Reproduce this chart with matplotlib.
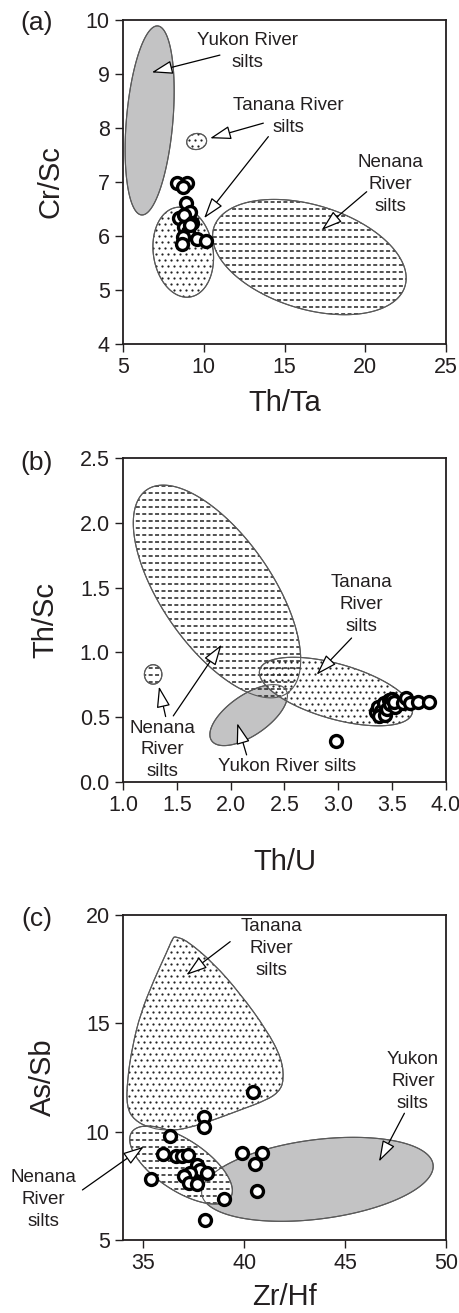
import numpy as np
import matplotlib
matplotlib.use('Agg')
import matplotlib.pyplot as plt
from matplotlib.patches import PathPatch, FancyArrowPatch
from matplotlib.path import Path

plt.rcParams['font.family'] = ['Liberation Sans', 'DejaVu Sans']

# (a) Th/Ta vs Cr/Sc
a_thta = [8.32, 8.98, 8.69, 8.90, 9.15, 8.49, 8.78, 9.25, 8.78, 9.04, 9.15, 8.73, 8.67, 9.56, 10.14]
a_crsc = [6.99, 6.99, 6.90, 6.61, 6.45, 6.33, 6.39, 6.24, 6.16, 6.08, 6.20, 5.98, 5.86, 5.94, 5.91]

# (b) Th/U vs Th/Sc
b_thu = [2.98, 3.35, 3.37, 3.40, 3.38, 3.42, 3.43, 3.45, 3.47, 3.48, 3.50, 3.53, 3.52,
         3.60, 3.63, 3.67, 3.74, 3.84]
b_thsc = [0.32, 0.54, 0.58, 0.55, 0.51, 0.61, 0.52, 0.56, 0.63, 0.60, 0.64, 0.58, 0.62,
          0.61, 0.65, 0.61, 0.62, 0.62]

# (c) Zr/Hf vs As/Sb
c_zrhf = [40.46, 38.0, 38.0, 36.32, 35.97, 36.63, 36.92, 37.20, 37.66, 37.83, 38.16, 37.34,
          37.04, 37.25, 37.66, 35.37, 39.0, 38.05, 39.88, 40.90, 40.56, 40.64]
c_assb = [11.82, 10.67, 10.2, 9.82, 8.97, 8.88, 8.88, 8.92, 8.46, 8.23, 8.08, 8.08,
          7.95, 7.62, 7.58, 7.80, 6.89, 5.92, 9.0, 9.0, 8.49, 7.26]

GRAY = '#c3c3c4'
EDGE = '#5a5a5a'
INK = '#231f20'
W, H = 460, 1313

fig = plt.figure(figsize=(W / 100, H / 100), dpi=100)


def make_axes(top, bottom, xlim, ylim, xticks, yticks, fmt):
    ax = fig.add_axes([123 / W, 1 - bottom / H, 323 / W, (bottom - top) / H])
    ax.set_xlim(*xlim)
    ax.set_ylim(*ylim)
    ax.set_xticks(xticks)
    ax.set_yticks(yticks)
    ax.set_xticklabels([fmt.format(v) for v in xticks])
    ax.set_yticklabels([fmt.format(v) for v in yticks])
    ax.tick_params(direction='out', length=5.5, width=1, labelsize=15.5, pad=4, colors=INK)
    for s in ax.spines.values():
        s.set_linewidth(1.3)
        s.set_color(INK)
    return ax


def ellipse(ax, centre, tip, ratio, n=240):
    # outline built in screen space so the axis ratio is what it looks like
    T = ax.transData
    c = T.transform(centre)
    a = T.transform(tip) - c
    b = ratio * np.array([-a[1], a[0]])
    t = np.linspace(0, 2 * np.pi, n)
    pts = c + np.outer(np.cos(t), a) + np.outer(np.sin(t), b)
    return Path(T.inverted().transform(pts), closed=True)


def smooth_outline(xy):
    xy = np.asarray(xy, float)
    mids = (xy + np.roll(xy, -1, axis=0)) / 2
    verts = [mids[-1]]
    codes = [Path.MOVETO]
    for i in range(len(xy)):
        verts += [xy[i], mids[i]]
        codes += [Path.CURVE3, Path.CURVE3]
    return Path(verts, codes)


def field(ax, path, kind):
    fc = GRAY if kind == 'gray' else 'white'
    p = PathPatch(path, fc=fc, ec=EDGE, lw=0.8, zorder=1)
    ax.add_patch(p)
    bb = ax.bbox
    inv = ax.transData.inverted()
    if kind == 'dots':
        step = 6.0
        pts = []
        for j, y in enumerate(np.arange(bb.y0, bb.y1, step)):
            off = step / 2 if j % 2 else 0
            for x in np.arange(bb.x0 + off, bb.x1, step):
                pts.append((x, y))
        d = inv.transform(np.array(pts))
        sc = ax.scatter(d[:, 0], d[:, 1], s=2.6, c='#222222', lw=0, zorder=2)
        sc.set_clip_path(p)
    elif kind == 'dash':
        for y in np.arange(bb.y0 + 2, bb.y1, 7.0):
            (x0, yy), (x1, _) = inv.transform([[bb.x0, y], [bb.x1, y]])
            ln, = ax.plot([x0, x1], [yy, yy], color='#222222', lw=1.1,
                          dashes=(2.6, 1.6), zorder=2)
            ln.set_clip_path(p)
    ax.add_patch(PathPatch(path, fc='none', ec=EDGE, lw=0.8, zorder=3))


def pointer(ax, tail, tip):
    ax.add_patch(FancyArrowPatch(tail, tip,
                                 arrowstyle='-|>,head_length=13,head_width=4.2',
                                 mutation_scale=1, shrinkA=0, shrinkB=0,
                                 fc='white', ec='black', lw=0.9, zorder=5, clip_on=False))


def note(ax, x, y, s):
    ax.text(x, y, s, ha='center', va='center', multialignment='center',
            fontsize=13.5, linespacing=1.38, color=INK, zorder=6)


def samples(ax, x, y):
    ax.plot(x, y, 'o', ms=8.6, mfc='white', mec='black', mew=2.4, ls='none',
            zorder=7, clip_on=False)


def labels(ax, xl, yl, xy, yx, letter, ly):
    ax.set_xlabel(xl, fontsize=21, va='center', color=INK)
    ax.set_ylabel(yl, fontsize=21, va='center', color=INK)
    ax.xaxis.set_label_coords(0.5, xy)
    ax.yaxis.set_label_coords(yx, 0.5)
    fig.text(37 / W, 1 - ly / H, letter, fontsize=19, ha='center', va='center', color=INK)


# ---- (a)
ax = make_axes(20, 344, (5, 25), (4, 10), [5, 10, 15, 20, 25], [4, 5, 6, 7, 8, 9, 10], '{:g}')
field(ax, ellipse(ax, (6.65, 8.14), (7.15, 9.89), 0.245), 'gray')
field(ax, ellipse(ax, (16.54, 5.61), (22.46, 5.07), 0.52), 'dash')
field(ax, ellipse(ax, (8.73, 5.70), (8.32, 6.53), 0.66), 'dots')
field(ax, ellipse(ax, (9.56, 7.75), (10.17, 7.78), 0.8), 'dots')
pointer(ax, (11.0, 9.35), (6.78, 9.03))
pointer(ax, (13.69, 8.09), (10.39, 7.81))
pointer(ax, (14.0, 7.84), (10.02, 6.33))
pointer(ax, (20.09, 6.82), (17.30, 6.11))
note(ax, 12.70, 9.41, 'Yukon River\nsilts')
note(ax, 15.24, 8.22, 'Tanana River\nsilts')
note(ax, 21.57, 6.96, 'Nenana\nRiver\nsilts')
samples(ax, a_thta, a_crsc)
labels(ax, 'Th/Ta', 'Cr/Sc', -0.182, -0.226, '(a)', 23)

# ---- (b)
ax = make_axes(458, 782, (1, 4), (0, 2.5), [1.0, 1.5, 2.0, 2.5, 3.0, 3.5, 4.0],
               [0.0, 0.5, 1.0, 1.5, 2.0, 2.5], '{:.1f}')
field(ax, ellipse(ax, (1.873, 1.47), (2.526, 0.686), 0.447), 'dash')
field(ax, ellipse(ax, (1.28, 0.83), (1.28, 0.905), 0.9), 'dash')
field(ax, ellipse(ax, (2.167, 0.516), (2.511, 0.713), 0.45), 'gray')
field(ax, ellipse(ax, (2.978, 0.698), (3.686, 0.530), 0.347), 'dots')
pointer(ax, (3.123, 1.111), (2.798, 0.828))
pointer(ax, (1.467, 0.510), (1.916, 1.060))
pointer(ax, (1.396, 0.505), (1.334, 0.737))
pointer(ax, (2.148, 0.209), (2.061, 0.454))
note(ax, 3.216, 1.369, 'Tanana\nRiver\nsilts')
note(ax, 1.365, 0.247, 'Nenana\nRiver\nsilts')
note(ax, 2.52, 0.118, 'Yukon River silts')
samples(ax, b_thu, b_thsc)
labels(ax, 'Th/U', 'Th/Sc', -0.246, -0.241, '(b)', 463)

# ---- (c)
ax = make_axes(915, 1240, (34, 50), (5, 20), [35, 40, 45, 50], [5, 10, 15, 20], '{:g}')
tanana_c = [(36.60, 19.0), (37.17, 18.82), (38.49, 17.77), (39.80, 16.38), (41.12, 14.69),
            (41.86, 13.38), (41.97, 12.38), (41.74, 11.85), (41.12, 11.46), (39.80, 11.0),
            (38.49, 10.54), (37.17, 10.15), (36.35, 10.05), (35.36, 10.15), (34.54, 10.54),
            (34.18, 11.15), (34.21, 12.38), (34.46, 13.92), (34.87, 15.46), (35.53, 17.0),
            (36.18, 18.31), (36.48, 18.97)]
field(ax, smooth_outline(tanana_c), 'dots')
field(ax, ellipse(ax, (43.63, 7.80), (49.36, 8.48), 0.34), 'gray')
field(ax, ellipse(ax, (36.875, 8.46), (39.32, 6.95), 0.43), 'dash')
pointer(ax, (39.31, 18.77), (37.14, 17.23))
pointer(ax, (31.99, 7.31), (35.03, 9.31))
pointer(ax, (47.94, 10.85), (46.68, 8.62))
note(ax, 41.37, 18.46, 'Tanana\nRiver\nsilts')
note(ax, 48.36, 12.31, 'Yukon\nRiver\nsilts')
note(ax, 30.07, 6.88, 'Nenana\nRiver\nsilts')
samples(ax, c_zrhf, c_assb)
labels(ax, 'Zr/Hf', 'As/Sb', -0.174, -0.247, '(c)', 919)

fig.savefig('out.png', dpi=100)
